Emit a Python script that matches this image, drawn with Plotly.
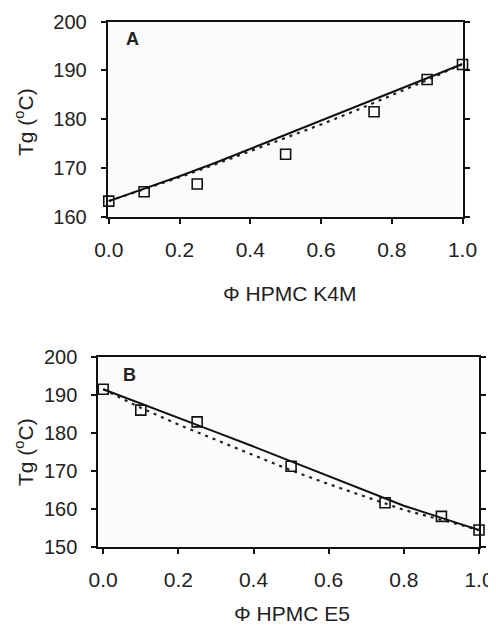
import plotly.graph_objects as go

# ---- data ----
phi_points = [0.0, 0.1, 0.25, 0.5, 0.75, 0.9, 1.0]
tg_k4m = [163.2, 165.1, 166.7, 172.8, 181.5, 188.1, 191.2]
tg_e5 = [191.5, 186.0, 182.9, 171.2, 161.6, 158.0, 154.4]

phi_fit = [0.0, 0.1, 0.2, 0.3, 0.4, 0.5, 0.6, 0.7, 0.8, 0.9, 1.0]
k4m_solid = [163.2, 165.7, 168.3, 171.0, 173.9, 176.8, 179.7, 182.6, 185.5, 188.4, 191.3]
k4m_dotted = [163.2, 165.6, 168.1, 170.7, 173.4, 176.1, 178.9, 181.8, 184.9, 188.0, 191.3]
e5_solid = [191.5, 187.8, 184.0, 180.2, 176.4, 172.5, 168.6, 164.7, 160.8, 157.6, 154.4]
e5_dotted = [191.5, 186.6, 182.2, 178.2, 174.0, 170.1, 166.5, 163.0, 159.7, 157.1, 154.4]

x_ticks = [0.0, 0.2, 0.4, 0.6, 0.8, 1.0]
x_ticktext = ["0.0", "0.2", "0.4", "0.6", "0.8", "1.0"]
yA_ticks = [160, 170, 180, 190, 200]
yB_ticks = [150, 160, 170, 180, 190, 200]

# the page body has an 8px margin, so the figure is 8px smaller than the window
OFF = 8
W, H = 496 - OFF, 626 - OFF
FONT = "Liberation Sans, Arial, sans-serif"

fig = go.Figure()

def add_panel(xa, ya, solid, dotted, pts):
    fig.add_trace(go.Scatter(x=phi_fit, y=dotted, mode="lines", xaxis=xa, yaxis=ya,
                             line=dict(color="#222", width=2.2, dash="3px,5px"),
                             showlegend=False, hoverinfo="skip"))
    fig.add_trace(go.Scatter(x=phi_fit, y=solid, mode="lines", xaxis=xa, yaxis=ya,
                             line=dict(color="#111", width=2), showlegend=False))
    fig.add_trace(go.Scatter(x=phi_points, y=pts, mode="markers", xaxis=xa, yaxis=ya,
                             marker=dict(symbol="square-open", size=10, color="#111",
                                         line=dict(width=1.6, color="#111")),
                             cliponaxis=False, showlegend=False))

add_panel("x", "y", k4m_solid, k4m_dotted, tg_k4m)
add_panel("x2", "y2", e5_solid, e5_dotted, tg_e5)

def px_x(p):
    return (p - OFF) / W

def px_y(p):
    return 1 - (p - OFF) / H

common_x = dict(tickmode="array", tickvals=x_ticks, ticktext=x_ticktext,
                ticks="outside", ticklen=5, tickwidth=1.5, tickcolor="#111",
                showline=True, linecolor="#111", linewidth=2, mirror=True,
                showgrid=False, zeroline=False,
                tickfont=dict(family=FONT, size=21, color="#222"),
                ticklabelstandoff=8)
common_y = dict(ticks="outside", ticklen=5, tickwidth=1.5, tickcolor="#111",
                showline=True, linecolor="#111", linewidth=2, mirror="ticks",
                showgrid=False, zeroline=False,
                tickfont=dict(family=FONT, size=20, color="#222"),
                ticklabelstandoff=10)

fig.update_layout(
    width=W, height=H,
    margin=dict(l=0, r=0, t=0, b=0, pad=0, autoexpand=False),
    paper_bgcolor="white",
    plot_bgcolor="#fbfbfb",
    xaxis=dict(domain=[px_x(107.7), px_x(462.5)], range=[-0.003, 1.0], anchor="y", **common_x),
    yaxis=dict(domain=[px_y(216.7), px_y(21.5)], range=[160, 200], anchor="x",
               tickvals=yA_ticks, **common_y),
    xaxis2=dict(domain=[px_x(98.3), px_x(479)], range=[-0.013, 1.0], anchor="y2", **common_x),
    yaxis2=dict(domain=[px_y(546.7), px_y(357)], range=[150, 200], anchor="x2",
                tickvals=yB_ticks, **common_y),
)

ann = []
def label(text, x, y, size, bold=False, angle=0):
    ann.append(dict(text=("<b>%s</b>" % text) if bold else text, x=px_x(x), y=px_y(y),
                    xref="paper", yref="paper", showarrow=False, textangle=angle,
                    xanchor="center", yanchor="middle",
                    font=dict(family=FONT, size=size, color="#222")))

label("A", 133, 39, 18, bold=True)
label("B", 129, 375, 18, bold=True)
label("Φ HPMC K4M", 289, 293, 21)
label("Φ HPMC E5", 292, 613, 21)
label("Tg (<sup>o</sup>C)", 24, 122, 21, angle=-90)
label("Tg (<sup>o</sup>C)", 24, 452, 21, angle=-90)
fig.update_layout(annotations=ann)

fig.write_html("out.html")
